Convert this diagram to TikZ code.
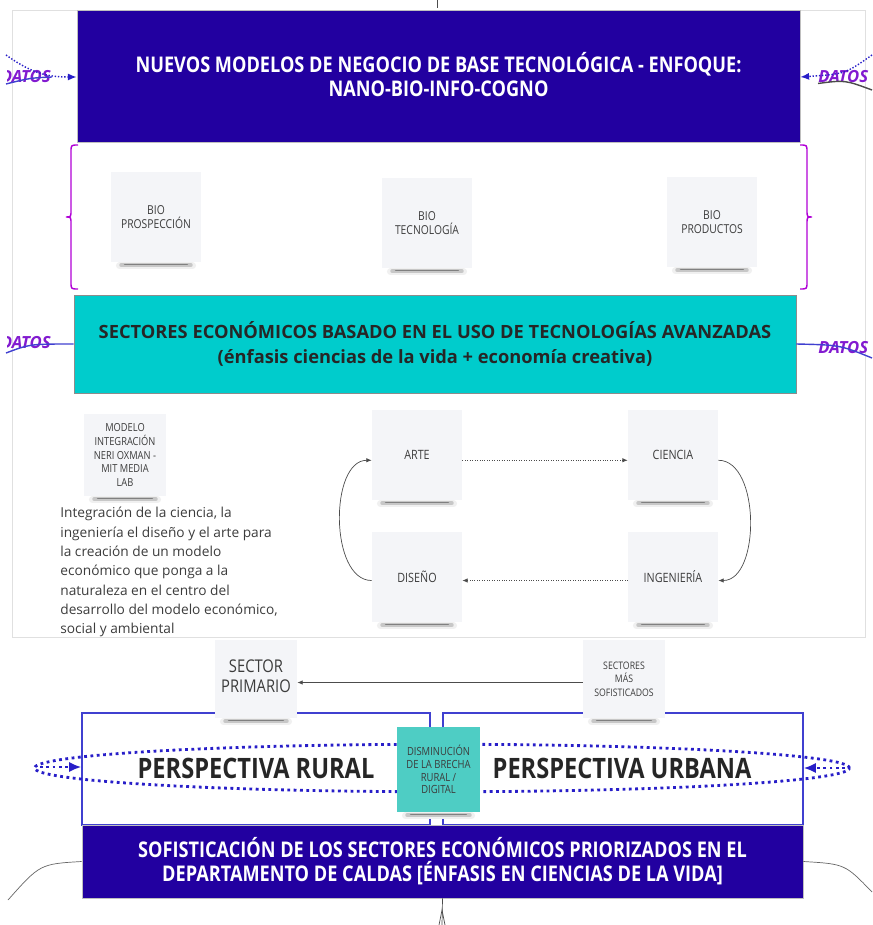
\documentclass[tikz,border=0pt]{standalone}
\usepackage{fontspec}
\setmainfont{Open Sans}
\newfontfamily\condfont[FakeStretch=0.84]{Open Sans}
\usetikzlibrary{arrows.meta}
\usetikzlibrary{positioning}
\usetikzlibrary{shapes.geometric}

\definecolor{navyfill}{RGB}{34,0,160}
\definecolor{cyanfill}{RGB}{0,204,204}
\definecolor{tealnote}{RGB}{78,205,196}
\definecolor{notegray}{RGB}{244,245,248}
\definecolor{bracemag}{RGB}{176,0,214}
\definecolor{datospurple}{RGB}{130,26,208}
\definecolor{frameblue}{RGB}{64,64,208}
\definecolor{dotblue}{RGB}{40,30,200}
\definecolor{textgray}{RGB}{60,60,60}

\tikzset{
  titlebox/.style={fill=navyfill, draw=gray!50, text=white, align=center, inner sep=0pt,
    font=\condfont\bfseries\fontsize{12.3}{13.6}\selectfont},
  note/.style={fill=notegray, minimum width=1.8cm, minimum height=1.8cm, align=center,
    inner sep=1pt, text=textgray, font=\condfont\fontsize{7.3}{7.8}\selectfont},
  datos/.style={text=datospurple, font=\bfseries\itshape\fontsize{9.5}{9.5}\selectfont, inner sep=0pt},
  flow/.style={draw=black!70, thin, -{Latex[length=3pt,width=2.5pt]}},
  persp/.style={font=\condfont\bfseries\fontsize{16}{16}\selectfont, text=black!85}
}

\begin{document}
\begin{tikzpicture}[x=0.02cm, y=-0.02cm]
  \useasboundingbox (0,0) rectangle (872,925);

  % outer light frame
  \draw[black!12] (12,10) rectangle (865,637);
  \draw[black!70] (437,0) -- (437,8);

  % top title
  \node[titlebox, minimum width=14.46cm, minimum height=2.64cm] (top) at (438.5,76) {};
  \node[titlebox, fill=none, draw=none] (toptext) at ([yshift=1pt]top.center)
    {NUEVOS MODELOS DE NEGOCIO DE BASE TECNOLÓGICA - ENFOQUE:\\NANO-BIO-INFO-COGNO};

  % braces around the bio notes
  \draw[bracemag, thick] (78,145) .. controls (71,145) .. (71,152) -- (71,210)
    .. controls (71,217) .. (66,217) .. controls (71,217) .. (71,224) -- (71,282)
    .. controls (71,289) .. (78,289);
  \draw[bracemag, thick] (800,145) .. controls (807,145) .. (807,152) -- (807,210)
    .. controls (807,217) .. (812,217) .. controls (807,217) .. (807,224) -- (807,282)
    .. controls (807,289) .. (800,289);

  \node[note, font=\condfont\fontsize{7}{7.6}\selectfont] (bioA) at (156,217) {BIO\\PROSPECCIÓN};
  \node[note, font=\condfont\fontsize{7}{7.6}\selectfont] (bioB) at (427,223) {BIO\\TECNOLOGÍA};
  \node[note, font=\condfont\fontsize{7}{7.6}\selectfont] (bioC) at (712,222) {BIO\\PRODUCTOS};

  % sectores box
  \node[fill=cyanfill, draw=black!45, minimum width=14.44cm, minimum height=1.96cm, align=center,
    inner sep=0pt, font=\bfseries\fontsize{10.4}{14.2}\selectfont, text=black!85] (sect) at (435,344)
    {SECTORES ECONÓMICOS BASADO EN EL USO DE TECNOLOGÍAS AVANZADAS\\(énfasis ciencias de la vida + economía creativa)};

  % datos inputs
  \begin{scope}
    \clip (7,0) rectangle (872,925);
    \node[datos, anchor=east] (datosA) at (51,77) {DATOS};
    \node[datos, anchor=east] (datosC) at (51,343) {DATOS};
  \end{scope}
  \node[datos, anchor=west] (datosB) at (818,77) {DATOS};
  \node[datos, anchor=west] (datosD) at (818,348) {DATOS};
  \coordinate (inA) at (6,84);
  \coordinate (dotA) at (6,55);
  \coordinate (dotB) at (872,55);
  \coordinate (inB) at (872,90);
  \coordinate (inC) at (6,353);
  \coordinate (inD) at (872,358);
  \draw[frameblue, thick] (inA) .. controls (30,78) .. (52,77);
  \draw[dotblue, densely dotted, thick, -{Latex[length=5pt,width=4pt]}] (dotA) .. controls (30,72) and (45,77) .. (top.west |- 0,77);
  \draw[dotblue, densely dotted, thick, -{Latex[length=5pt,width=4pt]}] (dotB) .. controls (845,74) .. (top.east |- 0,77);
  \draw[black!70, thick] (datosB.south west) .. controls (845,80) .. (inB);
  \draw[frameblue, thick] (inC) .. controls (30,344) .. (sect.west);
  \draw[frameblue, thick] (sect.east) .. controls (840,345) .. (inD);

  % modelo Oxman
  \node[note, minimum width=1.64cm, minimum height=1.64cm, font=\condfont\fontsize{6.3}{7.8}\selectfont] (oxman) at (125,455)
    {MODELO\\INTEGRACIÓN\\NERI OXMAN -\\MIT MEDIA\\LAB};
  \node[anchor=north west, align=left, inner sep=0pt, text=textgray,
    font=\fontsize{7.8}{11}\selectfont] (desc) at (60,507)
    {Integración de la ciencia, la\\ingeniería el diseño y el arte para\\la creación de un modelo\\económico que ponga a la\\naturaleza en el centro del\\desarrollo del modelo económico,\\social y ambiental};

  % cycle of disciplines
  \node[note] (arte) at (417,455) {ARTE};
  \node[note] (ciencia) at (673,455) {CIENCIA};
  \node[note] (diseno) at (417,577) {DISEÑO};
  \node[note] (ingen) at (673,577) {INGENIERÍA};
  \draw[flow, densely dotted] ([yshift=-3pt]arte.east) -- ([yshift=-3pt]ciencia.west);
  \draw[flow, densely dotted] ([yshift=-2pt]ingen.west) -- ([yshift=-2pt]diseno.east);
  \draw[flow] ([yshift=-2pt]diseno.west) to[out=180, in=180, looseness=0.9] ([yshift=-3pt]arte.west);
  \draw[flow] ([yshift=-3pt]ciencia.east) to[out=0, in=0, looseness=0.9] ([yshift=-2pt]ingen.east);

  % rural / urban frames
  \node[draw=frameblue, thick, minimum width=6.96cm, minimum height=2.24cm, inner sep=0pt] (rural) at (256,769) {};
  \node[draw=frameblue, thick, minimum width=7.2cm, minimum height=2.24cm, inner sep=0pt] (urbana) at (623,769) {};
  \node[draw=dotblue, dotted, line width=1.6pt, ellipse, minimum width=16.3cm, minimum height=0.95cm, inner sep=0pt] (brecha) at (442,768) {};
  \node[persp] (ruralt) at (256,768) {PERSPECTIVA RURAL};
  \node[persp] (urbanat) at (622,768) {PERSPECTIVA URBANA};
  \coordinate (tipL) at (40,767);
  \coordinate (tipR) at (845,768);
  \draw[dotblue, dotted, line width=1.6pt, -{Latex[length=7pt,width=6pt]}] (tipL) -- (rural.west |- tipL);
  \draw[dotblue, dotted, line width=1.6pt, -{Latex[length=7pt,width=6pt]}] (tipR) -- (urbana.east |- tipR);

  \node[note, fill=tealnote, minimum width=1.66cm, minimum height=1.7cm, font=\condfont\fontsize{6.4}{7.3}\selectfont] (dism) at (438.5,769.5)
    {DISMINUCIÓN\\DE LA BRECHA\\RURAL /\\DIGITAL};

  % sector notes
  \node[note, minimum width=1.64cm, minimum height=1.56cm, font=\condfont\fontsize{10}{11.3}\selectfont] (primario) at (256,679) {};
  \node[note, fill=none, font=\condfont\fontsize{10}{11.3}\selectfont] (primariot) at ([yshift=1.5pt]primario.center) {SECTOR\\PRIMARIO};
  \node[note, minimum width=1.64cm, minimum height=1.56cm, font=\condfont\fontsize{5.9}{7.6}\selectfont] (sofist) at (624,679) {SECTORES\\MÁS\\SOFISTICADOS};
  \draw[flow] ([yshift=-2pt]sofist.west) -- ([yshift=-2pt]primario.east);

  % note shadows
  \foreach \n in {bioA,bioB,bioC,oxman,arte,ciencia,diseno,ingen,primario,sofist,dism} {
    \draw[black!6, line width=4pt, line cap=round] ([xshift=5pt,yshift=-2pt]\n.south west) -- ([xshift=-5pt,yshift=-2pt]\n.south east);
    \draw[black!22, line width=2.2pt, line cap=round] ([xshift=6pt,yshift=-1.6pt]\n.south west) -- ([xshift=-6pt,yshift=-1.6pt]\n.south east);
    \draw[black!50, line width=0.9pt, line cap=round] ([xshift=8pt,yshift=-1.2pt]\n.south west) -- ([xshift=-8pt,yshift=-1.2pt]\n.south east);
  }

  % bottom title
  \node[titlebox, minimum width=14.42cm, minimum height=1.46cm] (bottom) at (442.5,861.5)
    {SOFISTICACIÓN DE LOS SECTORES ECONÓMICOS PRIORIZADOS EN EL\\DEPARTAMENTO DE CALDAS [ÉNFASIS EN CIENCIAS DE LA VIDA]};
  \coordinate (outL) at (8,900);
  \coordinate (outR) at (872,892);
  \coordinate (outB) at (442,925);
  \draw[black!60] (bottom.west) .. controls (40,864) .. (outL);
  \draw[black!60] (bottom.east) .. controls (845,864) .. (outR);
  \draw[black!70] (bottom.south) -- (outB);
  \draw[black!70] (439,925) -- (442,910) -- (445,925);
\end{tikzpicture}
\end{document}
